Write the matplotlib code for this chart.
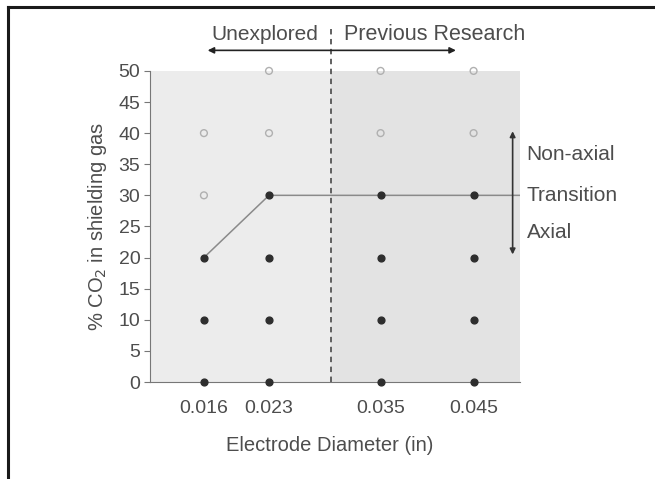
import matplotlib.pyplot as plt
from matplotlib.lines import Line2D

plt.rcParams['font.family'] = ['Liberation Sans', 'DejaVu Sans']

diameters = [0.016, 0.023, 0.035, 0.045]
diam_labels = ['0.016', '0.023', '0.035', '0.045']

# filled = axial / transition runs, open = non-axial runs
filled_x = [0.016, 0.016, 0.016, 0.023, 0.023, 0.023, 0.023,
            0.035, 0.035, 0.035, 0.035, 0.045, 0.045, 0.045, 0.045]
filled_y = [0, 10, 20, 0, 10, 20, 30, 0, 10, 20, 30, 0, 10, 20, 30]
open_x = [0.016, 0.016, 0.023, 0.023, 0.035, 0.035, 0.045, 0.045]
open_y = [30, 40, 40, 50, 40, 50, 40, 50]

trans_x = [0.016, 0.023, 0.050]
trans_y = [20, 30, 30]

split_x = 0.0297
yticks = list(range(0, 55, 5))

txt = '#4d4d4d'

fig = plt.figure(figsize=(6.55, 4.79), dpi=100)
ax = fig.add_axes([0.229, 0.2025, 0.565, 0.6495])

ax.set_xlim(0.0102, 0.050)
ax.set_ylim(0, 50)

ax.axvspan(0.0102, split_x, color='#ececec', zorder=0, lw=0)
ax.axvspan(split_x, 0.050, color='#e3e3e3', zorder=0, lw=0)

ax.plot(trans_x, trans_y, color='#8a8a8a', lw=1.1, zorder=2)
ax.scatter(filled_x, filled_y, s=24, color='#2e2e2e', zorder=3, clip_on=False)
ax.scatter(open_x, open_y, s=24, facecolor='none', edgecolor='#b0b0b0',
           lw=1.0, zorder=3, clip_on=False)

# dashed split line reaching up between the two headings
ax.add_line(Line2D([split_x, split_x], [0, 57.0], color='#555555', lw=1.3,
                   ls=(0, (3, 2.5)), clip_on=False, zorder=1))

ax.annotate('', xy=(0.0164, 53.3), xytext=(0.0431, 53.3),
            arrowprops=dict(arrowstyle='<|-|>', color='#222222', lw=1.2,
                            mutation_scale=9, shrinkA=0, shrinkB=0),
            annotation_clip=False)
ax.text(split_x - 0.0014, 55.9, 'Unexplored', ha='right', va='center',
        fontsize=15, color=txt)
ax.text(split_x + 0.0014, 55.9, 'Previous Research', ha='left', va='center',
        fontsize=15.5, color=txt)

ax.annotate('', xy=(0.0492, 40.3), xytext=(0.0492, 20.5),
            arrowprops=dict(arrowstyle='<|-|>', color='#333333', lw=1.2,
                            mutation_scale=8, shrinkA=0, shrinkB=0),
            annotation_clip=False)
ax.text(0.0507, 36.5, 'Non-axial', ha='left', va='center', fontsize=15, color=txt)
ax.text(0.0507, 30, 'Transition', ha='left', va='center', fontsize=15, color=txt)
ax.text(0.0507, 24, 'Axial', ha='left', va='center', fontsize=15, color=txt)

ax.set_xticks(diameters)
ax.set_xticklabels(diam_labels)
ax.set_yticks(yticks)
ax.tick_params(axis='x', length=0, pad=13, labelsize=14, colors=txt)
ax.tick_params(axis='y', length=4, width=0.8, color='#777777', labelsize=14,
               labelcolor=txt, pad=3)

for side in ['top', 'right']:
    ax.spines[side].set_visible(False)
ax.spines['left'].set_color('#777777')
ax.spines['bottom'].set_color('#777777')

ax.set_xlabel('Electrode Diameter (in)', fontsize=14.5, color=txt)
ax.set_ylabel('% CO$_2$ in shielding gas', fontsize=14.5, color=txt)
ax.xaxis.set_label_coords(0.485, -0.172)
ax.yaxis.set_label_coords(-0.11, 0.5)

# black frame around the figure (partly cropped in the original)
fig.add_artist(Line2D([8 / 655, 1.0], [1 - 7 / 479, 1 - 7 / 479],
                      transform=fig.transFigure, color='#1a1a1a', lw=2.2))
fig.add_artist(Line2D([8 / 655, 8 / 655], [0, 1 - 7 / 479],
                      transform=fig.transFigure, color='#1a1a1a', lw=2.2))

fig.savefig('out.png', dpi=100)
